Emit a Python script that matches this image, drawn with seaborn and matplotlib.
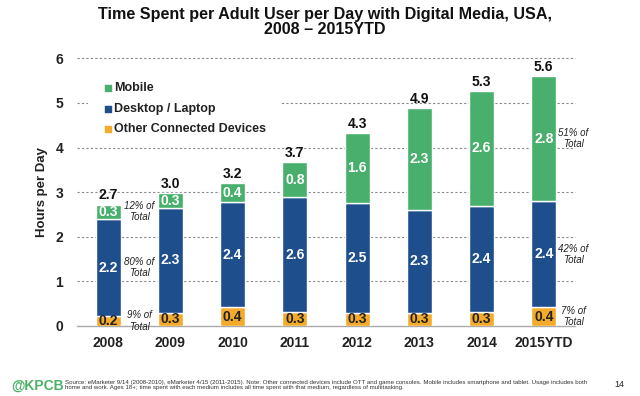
import matplotlib
matplotlib.use("Agg")
import matplotlib.pyplot as plt
from matplotlib.patches import Rectangle
import seaborn as sns
import pandas as pd
import numpy as np

years = ["2008", "2009", "2010", "2011", "2012", "2013", "2014", "2015YTD"]
other = [0.22, 0.30, 0.42, 0.32, 0.30, 0.30, 0.32, 0.42]
desktop = [2.18, 2.34, 2.36, 2.56, 2.46, 2.30, 2.38, 2.38]
mobile = [0.32, 0.33, 0.42, 0.80, 1.57, 2.28, 2.56, 2.80]
totals = ["2.7", "3.0", "3.2", "3.7", "4.3", "4.9", "5.3", "5.6"]
series_names = ["Mobile", "Desktop / Laptop", "Other Connected Devices"]
share_2008 = ["12% of\nTotal", "80% of\nTotal", "9% of\nTotal"]
share_2015 = ["51% of\nTotal", "42% of\nTotal", "7% of\nTotal"]

C_MOB = "#48B06C"
C_DESK = "#1E4F8C"
C_OTH = "#F4AA2A"

sns.set_theme(style="white")
plt.rcParams["font.family"] = ["Liberation Sans", "DejaVu Sans"]

df = pd.DataFrame({"year": years, "other": other, "desktop": desktop, "mobile": mobile})
df["b_desk"] = df["other"]
df["b_mob"] = df["other"] + df["desktop"]

fig = plt.figure(figsize=(6.4, 3.96), dpi=100)
ax = fig.add_axes([0.1203, 0.1768, 0.778, 0.676])

sns.barplot(data=df, x="year", y="other", color=C_OTH, saturation=1, width=0.4, ax=ax, zorder=3)
sns.barplot(data=df, x="year", y="desktop", bottom=df["b_desk"], color=C_DESK, saturation=1, width=0.4, ax=ax, zorder=3)
sns.barplot(data=df, x="year", y="mobile", bottom=df["b_mob"], color=C_MOB, saturation=1, width=0.4, ax=ax, zorder=3)

ax.set_xlim(-0.5, len(years) - 0.5)
ax.set_ylim(0, 6)
for y in range(1, 7):
    ax.axhline(y, color="#888888", lw=0.8, ls=(0, (2, 2)), zorder=1, clip_on=False)
for s in ["top", "right", "left"]:
    ax.spines[s].set_visible(False)
ax.spines["bottom"].set_color("#aaaaaa")
ax.spines["bottom"].set_linewidth(1.0)

ax.set_yticks(range(0, 7))
ax.set_yticklabels([str(i) for i in range(0, 7)], fontsize=10, fontweight="bold", color="#222222")
ax.tick_params(axis="y", length=0, pad=10)
ax.set_xticks(range(len(years)))
ax.set_xticklabels(years, fontsize=10, fontweight="bold", color="#222222")
ax.set_xticks(np.arange(-0.5, len(years) + 0.5, 1), minor=True)
ax.tick_params(axis="x", which="major", length=0, pad=7)
ax.tick_params(axis="x", which="minor", length=4, color="#aaaaaa", width=1.0, direction="out")
ax.set_xlabel("")
ax.set_ylabel("Hours per Day", fontsize=9.5, fontweight="bold", color="#222222", labelpad=5)

for i in range(len(years)):
    ax.text(i, other[i] / 2, f"{other[i]:.1f}", ha="center", va="center", fontsize=10,
            fontweight="bold", color="#222222", zorder=4)
    ax.text(i, other[i] + desktop[i] / 2, f"{desktop[i]:.1f}", ha="center", va="center",
            fontsize=10, fontweight="bold", color="white", zorder=4)
    ax.text(i, other[i] + desktop[i] + mobile[i] / 2, f"{mobile[i]:.1f}", ha="center", va="center",
            fontsize=10, fontweight="bold", color="white", zorder=4)
    ax.text(i, other[i] + desktop[i] + mobile[i] + 0.05, totals[i], ha="center", va="bottom",
            fontsize=10, fontweight="bold", color="#111111", zorder=4)

def share_labels(idx, xpos, texts):
    mids = [other[idx] + desktop[idx] + mobile[idx] / 2,
            other[idx] + desktop[idx] / 2,
            other[idx] / 2]
    for t, m in zip(texts, mids):
        ax.text(xpos, m, t, ha="center", va="center", fontsize=7, style="italic",
                color="#222222", linespacing=1.15, zorder=4, clip_on=False)

share_labels(0, 0.5, share_2008)
share_labels(7, 7.47, share_2015)

# legend (white box hides gridline behind it)
ax.add_patch(Rectangle((-0.33, 4.16), 3.09, 1.52, facecolor="white", edgecolor="none", zorder=2))
leg_colors = [C_MOB, C_DESK, C_OTH]
for k, (name, c) in enumerate(zip(series_names, leg_colors)):
    yy = 5.33 - k * 0.46
    ax.scatter([-0.005], [yy], marker="s", s=24, color=c, zorder=5, clip_on=False)
    ax.text(0.09, yy, name, ha="left", va="center", fontsize=9, fontweight="bold",
            color="#222222", zorder=5)

fig.text(0.508, 0.982, "Time Spent per Adult User per Day with Digital Media, USA,\n2008 \u2013 2015YTD",
         ha="center", va="top", fontsize=11.6, fontweight="bold", color="#111111", linespacing=1.02)

fig.text(0.018, 0.026, "@KPCB", ha="left", va="center", fontsize=10, fontweight="bold",
         color="#4DB06A")
fig.text(0.102, 0.028,
         "Source: eMarketer 9/14 (2008-2010), eMarketer 4/15 (2011-2015). Note: Other connected devices include OTT and game consoles. Mobile includes smartphone and tablet. Usage includes both\n"
         "home and work. Ages 18+; time spent with each medium includes all time spent with that medium, regardless of multitasking.",
         ha="left", va="center", fontsize=4.4, color="#333333", linespacing=1.2)
fig.text(0.967, 0.03, "14", ha="center", va="center", fontsize=6.5, color="#222222")

fig.savefig("out.png", dpi=100)
